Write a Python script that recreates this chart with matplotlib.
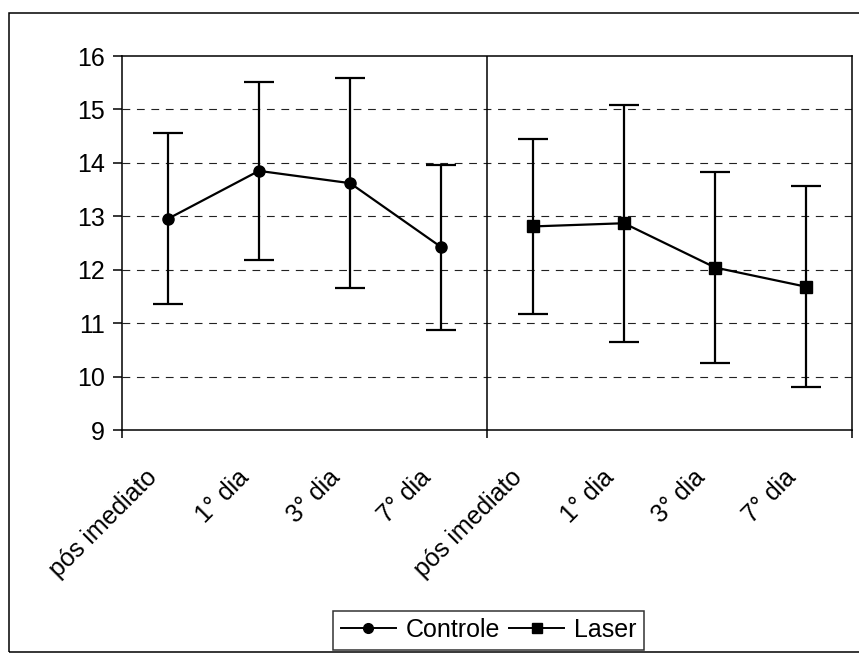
import matplotlib
matplotlib.use("Agg")
import matplotlib.pyplot as plt
from matplotlib.patches import Rectangle
from matplotlib.lines import Line2D
from matplotlib.transforms import ScaledTranslation

plt.rcParams['font.family'] = ['Liberation Sans', 'DejaVu Sans']

dias = ["pós imediato", "1° dia", "3° dia", "7° dia"]
controle_media = [12.95, 13.85, 13.62, 12.42]
controle_dp = [1.60, 1.66, 1.96, 1.54]
laser_media = [12.81, 12.87, 12.04, 11.68]
laser_dp = [1.63, 2.22, 1.79, 1.88]

x_c = list(range(len(dias)))
x_l = [i + len(dias) for i in range(len(dias))]
labels = dias + dias

fig = plt.figure(figsize=(8.59, 6.55), dpi=100)
ax = fig.add_axes([0.142, 0.3435, 0.850, 0.571])

ax.errorbar(x_c, controle_media, yerr=controle_dp, color='black', lw=1.6,
            marker='o', ms=8, capsize=11, capthick=1.6, elinewidth=1.6,
            zorder=3)
ax.errorbar(x_l, laser_media, yerr=laser_dp, color='black', lw=1.6,
            marker='s', ms=8, capsize=11, capthick=1.6, elinewidth=1.6,
            zorder=3)

ax.set_xlim(-0.5, 7.5)
ax.set_ylim(9, 16)
ax.set_yticks(range(9, 17))
ax.tick_params(axis='y', direction='out', length=6.5, width=1.1, pad=6,
               labelsize=18)
for v in range(10, 16):
    ax.axhline(v, color='#222222', lw=0.8, ls=(0, (7, 6)), zorder=1)
ax.axvline(3.5, color='black', lw=1.1, zorder=2)

ax.set_xticks([-0.5, 3.5, 7.5])
ax.set_xticklabels([])
ax.tick_params(axis='x', direction='out', length=6, width=1.1)

for s in ax.spines.values():
    s.set_linewidth(1.1)

off = ScaledTranslation(-0.14, -0.44, fig.dpi_scale_trans)
for xi, lab in zip(x_c + x_l, labels):
    ax.text(xi, 0, lab, transform=ax.get_xaxis_transform() + off,
            rotation=45, ha='right', va='center', rotation_mode='anchor',
            fontsize=18)

handles = [Line2D([], [], color='black', lw=1.4, marker='o', ms=7),
           Line2D([], [], color='black', lw=1.4, marker='s', ms=7)]
leg = ax.legend(handles, ['Controle', 'Laser'], loc='center',
                bbox_to_anchor=(0.569, 0.038),
                bbox_transform=fig.transFigure, ncol=2, fontsize=18,
                frameon=True, fancybox=False, edgecolor='black',
                borderpad=0.3, handletextpad=0.4, columnspacing=0.35,
                handlelength=2.2, borderaxespad=0)
leg.get_frame().set_linewidth(1.1)

fig.add_artist(Rectangle((0.0105, 0.0046), 1.0, 0.9755, transform=fig.transFigure,
                         fill=False, edgecolor='black', lw=1.1, clip_on=False))

fig.savefig("out.png", dpi=100)
